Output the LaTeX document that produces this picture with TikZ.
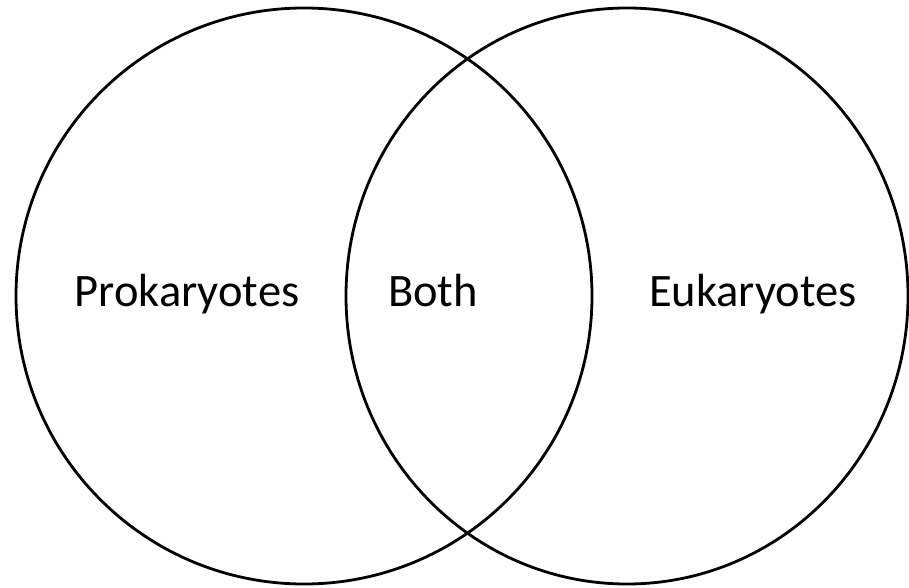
\documentclass[tikz,border=0pt]{standalone}
\usepackage{fontspec}
\setmainfont{Carlito}
\begin{document}
\begin{tikzpicture}[x=1pt,y=1pt,
  ring/.style={draw=black,line width=2.8pt},
  lbl/.style={font=\fontsize{46.5}{50}\selectfont,inner sep=0pt,anchor=base}]
\useasboundingbox (0,0) rectangle (909,587);
\draw[ring] (304,291) ellipse [x radius=288, y radius=288];
\draw[ring] (627,291) ellipse [x radius=281, y radius=288];
\node[lbl] (pro) at (187,281) {Prokaryotes};
\node[lbl] (both) at (433,281) {Both};
\node[lbl] (eu) at (753,281) {Eukaryotes};
\end{tikzpicture}
\end{document}
